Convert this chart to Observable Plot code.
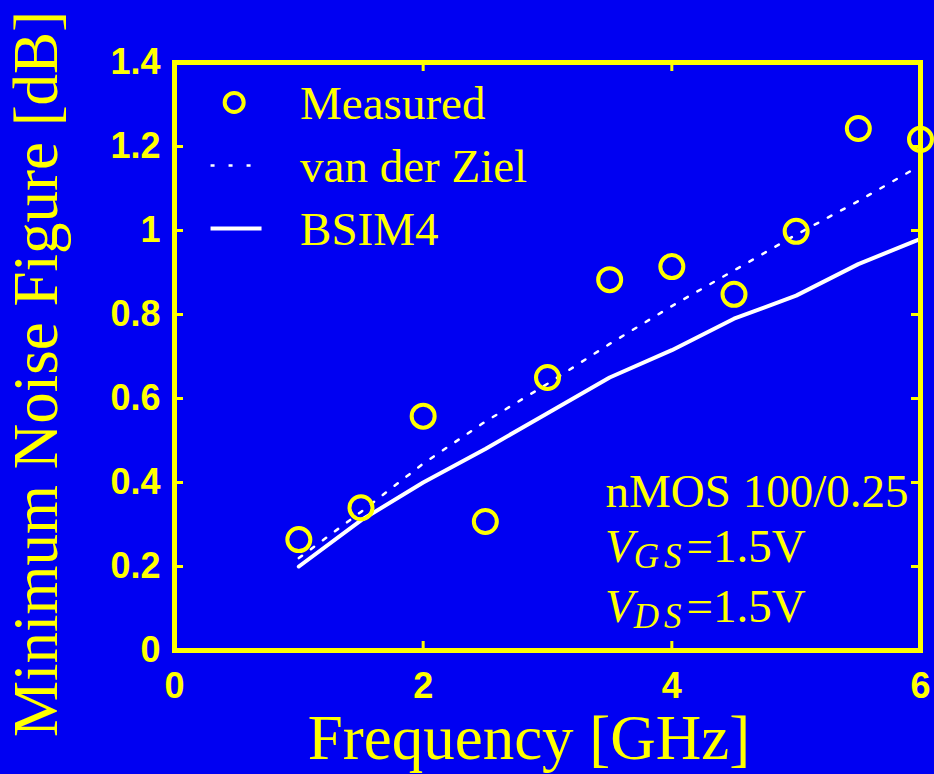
<!DOCTYPE html>
<html><head><meta charset="utf-8">
<script src="https://cdn.jsdelivr.net/npm/d3@7"></script>
<script src="https://cdn.jsdelivr.net/npm/@observablehq/plot@0.6"></script>
<style>html,body{margin:0;padding:0;background:#0000f2;} #chart svg{display:block}</style>
</head><body><div id="chart"></div>
<script>
const freq = [1, 1.5, 2, 2.5, 3, 3.5, 4, 4.5, 5, 5.5, 6];
const measured = [0.264, 0.340, 0.558, 0.307, 0.650, 0.883, 0.914, 0.848, 0.998, 1.243, 1.217];
const vanDerZiel = [0.22, 0.33, 0.445, 0.545, 0.635, 0.73, 0.82, 0.905, 0.99, 1.07, 1.155];
const bsim4 = [0.20, 0.31, 0.40, 0.48, 0.565, 0.65, 0.715, 0.79, 0.845, 0.92, 0.98];
const xTickLabels = [0, 2, 4, 6];
const xTickMarks = [2, 4];
const yTickLabels = [0, 0.2, 0.4, 0.6, 0.8, 1, 1.2, 1.4];
const yTickMarks = [0.2, 0.4, 0.6, 0.8, 1, 1.2];
const legendLabels = ["Measured", "van der Ziel", "BSIM4"];
const annotationTitle = "nMOS 100/0.25";
const annotationBias = [["GS", "=1.5V"], ["DS", "=1.5V"]];
const xLabel = "Frequency [GHz]";
const yLabel = "Minimum Noise Figure [dB]";

const YEL = "#ffff00", BG = "#0000f2", WHITE = "#ffffff";
const W = 934, H = 774, ML = 174, MR = 14, MT = 62, MB = 124;
const PW = W - ML - MR, PH = H - MT - MB;
const serif = "'Liberation Serif', 'Times New Roman', serif";
const sans = "'Liberation Sans', Arial, sans-serif";

const rows = freq.map((f, i) => ({f, m: measured[i], v: vanDerZiel[i], b: bsim4[i]}));

const plot = Plot.plot({
  width: W, height: H,
  marginLeft: ML, marginRight: MR, marginTop: MT, marginBottom: MB,
  style: {background: BG, color: YEL, fontFamily: sans, overflow: "visible"},
  x: {domain: [0, 6]},
  y: {domain: [0, 1.4]},
  marks: [
    Plot.axisX({ticks: xTickLabels, tickSize: 0, tickPadding: 22, fontSize: 36, fontWeight: "bold", fill: YEL, label: null, tickFormat: d => String(d)}),
    Plot.axisY({ticks: yTickLabels, tickSize: 0, tickPadding: 14, fontSize: 36, fontWeight: "bold", fill: YEL, label: null, tickFormat: d => String(d)}),
    // inward ticks
    Plot.tickY(yTickMarks, {y: d => d, stroke: YEL, strokeWidth: 3, insetRight: PW - 9}),
    Plot.tickY(yTickMarks, {y: d => d, stroke: YEL, strokeWidth: 3, insetLeft: PW - 9}),
    Plot.tickX(xTickMarks, {x: d => d, stroke: YEL, strokeWidth: 3, insetTop: PH - 9}),
    Plot.tickX(xTickMarks, {x: d => d, stroke: YEL, strokeWidth: 3, insetBottom: PH - 9}),
    Plot.line(rows, {x: "f", y: "b", stroke: WHITE, strokeWidth: 4}),
    Plot.line(rows, {x: "f", y: "v", stroke: WHITE, strokeWidth: 2.5, strokeDasharray: "4,11"}),
    Plot.dot(rows, {x: "f", y: "m", r: 11.5, stroke: YEL, strokeWidth: 4, fill: "none"}),
    // legend
    Plot.dot([legendLabels[0]], {x: 0.48, y: 1.305, r: 9.5, stroke: YEL, strokeWidth: 4, fill: "none"}),
    Plot.link([legendLabels[1]], {x1: 0.29, x2: 0.70, y1: 1.155, y2: 1.155, stroke: WHITE, strokeWidth: 2.5, strokeDasharray: "4,14"}),
    Plot.link([legendLabels[2]], {x1: 0.29, x2: 0.70, y1: 1.005, y2: 1.005, stroke: WHITE, strokeWidth: 4}),
    Plot.text(legendLabels, {x: 1.01, y: (d, i) => [1.305, 1.155, 1.005][i], text: d => d, textAnchor: "start", fill: YEL, fontSize: 47, fontFamily: serif, dy: 2}),
    Plot.text([annotationTitle], {x: 3.467, y: 0.378, text: d => d, textAnchor: "start", fill: YEL, fontSize: 47, fontFamily: serif}),
    Plot.frame({stroke: YEL, strokeWidth: 5})
  ]
});

const svg = d3.select(plot);
const annX = ML + 3.467 * PW / 6;
const baseY = [562, 622];
annotationBias.forEach(([sub, rest], i) => {
  const t = svg.append("text")
    .attr("x", annX).attr("y", baseY[i]).attr("text-anchor", "start")
    .attr("fill", YEL).attr("font-family", serif).attr("font-size", 47);
  t.append("tspan").attr("font-style", "italic").text("V");
  t.append("tspan").attr("font-style", "italic").attr("font-size", 35).attr("letter-spacing", 5).attr("dy", 6).text(sub);
  t.append("tspan").attr("dy", -6).text(rest);
});
// axis titles
svg.append("text").attr("x", 529).attr("y", 759).attr("text-anchor", "middle")
  .attr("fill", YEL).attr("font-family", serif).attr("font-size", 63).text(xLabel);
svg.append("text").attr("transform", `translate(57,${374}) rotate(-90)`).attr("text-anchor", "middle")
  .attr("fill", YEL).attr("font-family", serif).attr("font-size", 63).text(yLabel);

document.getElementById("chart").appendChild(plot);
</script>
</body></html>
